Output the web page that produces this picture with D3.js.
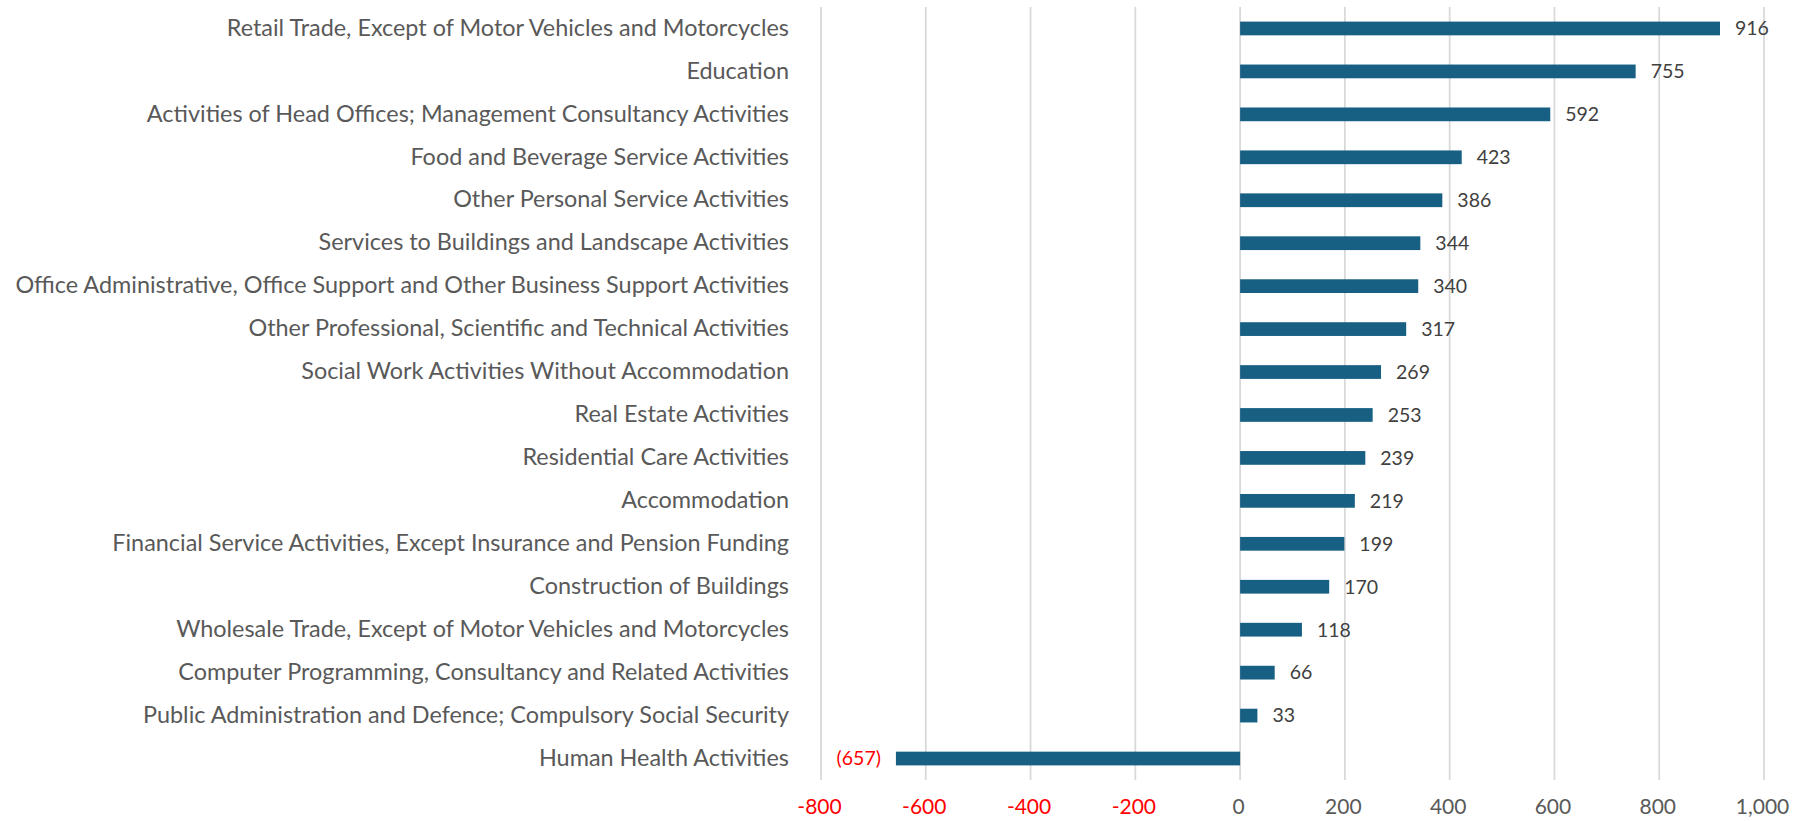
<!DOCTYPE html>
<html>
<head>
<meta charset="utf-8">
<script src="https://cdn.jsdelivr.net/npm/d3@7"></script>
<style>
  html, body { margin: 0; padding: 0; background: #fff; }
  svg text { font-family: Lato, "Open Sans", sans-serif; }
</style>
</head>
<body>
<div id="chart"></div>
<script>
// Chart data
const categories = [
    "Retail Trade, Except of Motor Vehicles and Motorcycles",
    "Education",
    "Activities of Head Offices; Management Consultancy Activities",
    "Food and Beverage Service Activities",
    "Other Personal Service Activities",
    "Services to Buildings and Landscape Activities",
    "Office Administrative, Office Support and Other Business Support Activities",
    "Other Professional, Scientific and Technical Activities",
    "Social Work Activities Without Accommodation",
    "Real Estate Activities",
    "Residential Care Activities",
    "Accommodation",
    "Financial Service Activities, Except Insurance and Pension Funding",
    "Construction of Buildings",
    "Wholesale Trade, Except of Motor Vehicles and Motorcycles",
    "Computer Programming, Consultancy and Related Activities",
    "Public Administration and Defence; Compulsory Social Security",
    "Human Health Activities"
];
const values = [916, 755, 592, 423, 386, 344, 340, 317, 269, 253, 239, 219, 199, 170, 118, 66, 33, -657];
const tickValues = [-800, -600, -400, -200, 0, 200, 400, 600, 800, 1000];

const width = 1803;
const height = 821;
const margin = { top: 7, right: 39, bottom: 41, left: 821 };

const svg = d3.select("#chart").append("svg")
    .attr("width", width)
    .attr("height", height);

const x = d3.scaleLinear()
    .domain([-800, 1000])
    .range([margin.left, width - margin.right]);

const y = d3.scaleBand()
    .domain(categories)
    .range([margin.top, height - margin.bottom])
    .paddingInner(0.68)
    .paddingOuter(0.34);

// gridlines
svg.append("g")
    .selectAll("line")
    .data(tickValues)
    .enter().append("line")
    .attr("x1", d => x(d))
    .attr("x2", d => x(d))
    .attr("y1", margin.top)
    .attr("y2", height - margin.bottom)
    .attr("stroke", "#d9d9d9")
    .attr("stroke-width", 1.8);

// bars
svg.append("g")
    .selectAll("rect")
    .data(values)
    .enter().append("rect")
    .attr("x", d => x(Math.min(0, d)))
    .attr("y", (d, i) => y(categories[i]))
    .attr("width", d => Math.abs(x(d) - x(0)))
    .attr("height", y.bandwidth())
    .attr("fill", "#176083");

// category labels, sized so the longest one spans the same width as the reference
const labels = svg.append("g")
    .selectAll("text")
    .data(categories)
    .enter().append("text")
    .attr("x", 789)
    .attr("y", d => y(d) + y.bandwidth() / 2 - 1)
    .attr("dy", "0.35em")
    .attr("text-anchor", "end")
    .attr("fill", "#595959")
    .attr("font-size", 20)
    .text(d => d);

let longest = 0;
labels.each(function() { longest = Math.max(longest, this.getComputedTextLength()); });
labels.attr("font-size", 20 * 774 / longest);

// value labels
const fmt = d3.format(",");
const tickFmt = d => d < 0 ? "-" + fmt(-d) : fmt(d);

svg.append("g")
    .selectAll("text")
    .data(values)
    .enter().append("text")
    .attr("x", d => d < 0 ? x(d) - 15 : x(d) + 15)
    .attr("y", (d, i) => y(categories[i]) + y.bandwidth() / 2)
    .attr("dy", "0.35em")
    .attr("text-anchor", d => d < 0 ? "end" : "start")
    .attr("fill", d => d < 0 ? "#ff0000" : "#404040")
    .attr("font-size", 19.5)
    .text(d => d < 0 ? "(" + fmt(-d) + ")" : fmt(d));

// x axis tick labels
const xAxis = d3.axisBottom(x)
    .tickValues(tickValues)
    .tickFormat(tickFmt)
    .tickSize(0)
    .tickPadding(0);

const axisG = svg.append("g")
    .attr("transform", `translate(-2,${height - margin.bottom + 27})`)
    .call(xAxis);

axisG.select(".domain").remove();
axisG.selectAll("text")
    .attr("font-size", 21)
    .attr("font-family", null)
    .attr("dy", "0.35em")
    .attr("fill", d => d < 0 ? "#ff0000" : "#595959");
</script>
</body>
</html>
